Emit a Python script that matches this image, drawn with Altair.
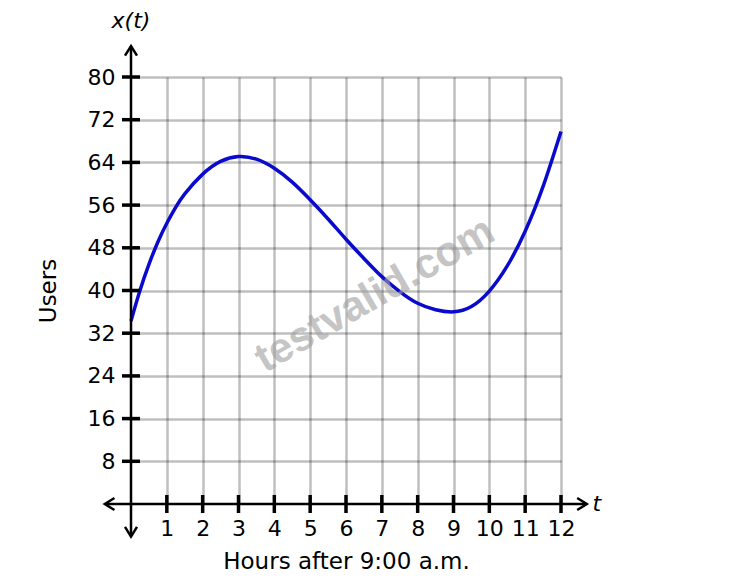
import altair as alt
import pandas as pd

# ---- data ----
t_vals = [0, 0.25, 0.5, 0.75, 1, 1.25, 1.5, 2, 2.5, 3, 3.5, 4, 4.5, 5, 5.5,
          6, 6.5, 7, 7.5, 8, 8.5, 9, 9.5, 10, 10.5, 11, 11.5, 12]
users = [34.3, 40.0, 44.9, 49.1, 52.6, 55.6, 58.1, 61.8, 64.2, 65.1, 64.6,
         62.9, 60.3, 57.0, 53.4, 49.6, 46.0, 42.6, 39.8, 37.6, 36.4, 36.0,
         37.0, 39.9, 44.6, 51.1, 59.5, 69.8]
tick_hours = list(range(1, 13))
tick_users = list(range(8, 81, 8))

# axis arrow extents (data units)
AX_LEFT, AX_RIGHT = -0.73, 12.72
AX_BOTTOM, AX_TOP = -6.1, 85.8

FONT = "DejaVu Sans"
CURVE = "#0a0acc"

curve_df = pd.DataFrame({"t": t_vals, "x": users})
xt_df = pd.DataFrame({"t": tick_hours, "x": [0] * len(tick_hours)})
yt_df = pd.DataFrame({"t": [0] * len(tick_users), "x": tick_users})
axes_df = pd.DataFrame({"t": [AX_LEFT, 0], "t2": [AX_RIGHT, 0],
                        "x": [0, AX_BOTTOM], "x2": [0, AX_TOP]})
arrow_df = pd.DataFrame({"t": [AX_LEFT, AX_RIGHT, 0, 0],
                         "x": [0, 0, AX_BOTTOM, AX_TOP],
                         "ang": [180, 0, 90, 270]})
lab_df = pd.DataFrame({"t": [0, 13.0], "x": [90.4, 0], "txt": ["x(t)", "t"]})
wm_df = pd.DataFrame({"t": [6.8], "x": [39.2], "txt": ["testvalid.com"]})

xs = alt.Scale(domain=[0, 12], nice=False, zero=False)
ys = alt.Scale(domain=[0, 80], nice=False, zero=False)

common_axis = dict(grid=True, domain=False, ticks=False, labelFont=FONT,
                   labelFontSize=22, labelColor="black", titleFont=FONT,
                   titleFontSize=23, titleFontWeight="normal", titleColor="black",
                   gridColor="black", gridOpacity=0.25, gridWidth=2.5,
                   labelOverlap=False, labelFlush=False)

X = alt.X("t:Q", scale=xs, axis=alt.Axis(values=tick_hours, labelPadding=14,
                                       title="Hours after 9:00 a.m.",
                                       titlePadding=11, **common_axis))
Y = alt.Y("x:Q", scale=ys, axis=alt.Axis(values=tick_users, labelPadding=16,
                                       title="Users", titlePadding=27,
                                       **common_axis))

line = alt.Chart(curve_df).mark_line(
    color=CURVE, strokeWidth=3.5, interpolate="natural"
).encode(x=X, y=Y)

axis_lines = alt.Chart(axes_df).mark_rule(color="black", strokeWidth=2.5).encode(
    x=X, x2="t2:Q", y=Y, y2="x2:Q",
)

arrows = alt.Chart(arrow_df).mark_point(
    shape="M -1.6 -1 L 0 0 L -1.6 1", filled=False, color="black",
    strokeWidth=2.5, size=144, opacity=1
).encode(x=X, y=Y, angle=alt.Angle("ang:Q", scale=None))

xticks = alt.Chart(xt_df).mark_tick(orient="vertical", size=18, thickness=3.5,
                                    color="black", opacity=1).encode(x=X, y=Y)
yticks = alt.Chart(yt_df).mark_tick(orient="horizontal", size=18, thickness=3.5,
                                    color="black", opacity=1).encode(x=X, y=Y)

labels = alt.Chart(lab_df).mark_text(
    font=FONT, fontSize=22, fontStyle="italic", color="black", align="center",
    baseline="middle"
).encode(x=X, y=Y, text="txt:N")

watermark = alt.Chart(wm_df).mark_text(
    font="Liberation Sans", fontSize=42, fontWeight="bold", color="#a0a0a0",
    opacity=0.6, angle=330, align="center", baseline="middle"
).encode(x=X, y=Y, text="txt:N")

chart = alt.layer(line, axis_lines, xticks, yticks, arrows, labels, watermark).properties(
    width=430, height=427,
    autosize=alt.AutoSizeParams(type="none"),
    padding={"left": 123, "top": 69, "right": 160, "bottom": 70},
).configure_view(strokeWidth=0)

chart.save("out.html", embed_options={"renderer": "svg", "actions": False})
